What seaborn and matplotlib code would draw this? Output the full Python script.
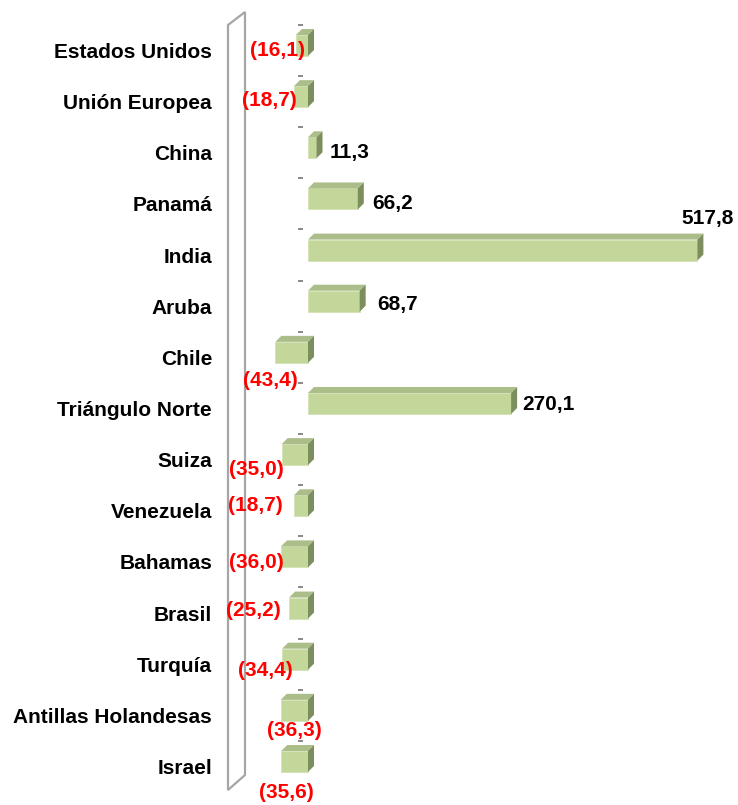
import matplotlib
matplotlib.use("Agg")
import matplotlib.pyplot as plt
from matplotlib.patches import Polygon
import seaborn as sns
import pandas as pd

# ---------------- data ----------------
categories = ["Estados Unidos", "Unión Europea", "China", "Panamá", "India", "Aruba",
              "Chile", "Triángulo Norte", "Suiza", "Venezuela", "Bahamas", "Brasil",
              "Turquía", "Antillas Holandesas", "Israel"]
values = [-16.1, -18.7, 11.3, 66.2, 517.8, 68.7, -43.4, 270.1, -35.0, -18.7,
          -36.0, -25.2, -34.4, -36.3, -35.6]
value_labels = ["(16,1)", "(18,7)", "11,3", "66,2", "517,8", "68,7", "(43,4)", "270,1",
                "(35,0)", "(18,7)", "(36,0)", "(25,2)", "(34,4)", "(36,3)", "(35,6)"]

# ---------------- layout (pixel offsets of value labels from bar ends) ----------------
label_offsets = [(-18, 0), (-25, -1), (13, 0), (14, 0), (36, -37), (18, -2),
                 (-5, 23), (11, -4), (-25, 10), (-39, -5), (-25, 1), (-36, -3),
                 (-17, 6), (14, 15), (5, 26)]

FACE = "#c4d79b"
TOP = "#abbd88"
SIDE = "#7c8d5e"
FS = 15

sns.set_theme(style="white")
plt.rcParams["font.family"] = ["Liberation Sans", "DejaVu Sans"]
plt.rcParams["font.weight"] = "bold"

W, H = 738, 805
fig = plt.figure(figsize=(W / 100, H / 100), dpi=100)

PX_PER_UNIT = 0.752
ZERO_PX = 308
ROW = 51.14
FIRST = 50.5
ax_left_px = 228
ax = fig.add_axes([ax_left_px / W, 0, (W - ax_left_px) / W, 1])

df = pd.DataFrame({"pais": categories, "valor": values})
sns.barplot(data=df, x="valor", y="pais", orient="h", color=FACE, saturation=1,
            width=0.41, edgecolor="#d3e2b6", linewidth=0.6, ax=ax, zorder=3)

ax.set_xlim((ax_left_px - ZERO_PX) / PX_PER_UNIT, (W - ZERO_PX) / PX_PER_UNIT)
ax.set_ylim((H - FIRST) / ROW, -FIRST / ROW)

shift = -5 / ROW
ddx = 6 / PX_PER_UNIT
ddy = 6 / ROW
for p in list(ax.patches):
    p.set_y(p.get_y() + shift)
    x0 = min(p.get_x(), p.get_x() + p.get_width())
    x1 = max(p.get_x(), p.get_x() + p.get_width())
    yt = p.get_y()
    yb = p.get_y() + p.get_height()
    ax.add_patch(Polygon([(x0, yt), (x1, yt), (x1 + ddx, yt - ddy), (x0 + ddx, yt - ddy)],
                         closed=True, facecolor=TOP, edgecolor="none", zorder=3))
    ax.add_patch(Polygon([(x1, yt), (x1 + ddx, yt - ddy), (x1 + ddx, yb - ddy), (x1, yb)],
                         closed=True, facecolor=SIDE, edgecolor="none", zorder=3))

# small floor ticks at category boundaries
for k in range(len(categories)):
    ax.plot([-13.3, -6.6], [k - 0.5, k - 0.5], color="#7f7f7f", lw=1.3, zorder=2,
            solid_capstyle="butt")

# side wall
wall = [(228, 25), (245, 12), (245, 775), (228, 790)]
ax.add_patch(Polygon([(x / W, 1 - y / H) for x, y in wall], closed=True,
                     transform=fig.transFigure, facecolor="none",
                     edgecolor="#a6a6a6", linewidth=1.6, zorder=1, clip_on=False))

# value labels
for i, (v, lab, (dx, dy)) in enumerate(zip(values, value_labels, label_offsets)):
    if v < 0:
        ax.annotate(lab, (v, i), xytext=(dx, -dy), textcoords="offset pixels",
                    ha="center", va="center", color="#ff0000", fontsize=FS,
                    fontweight="bold", zorder=5)
    elif i == categories.index("India"):
        ax.annotate(lab, (v, i), xytext=(dx, -dy), textcoords="offset pixels",
                    ha="right", va="center", color="black", fontsize=FS,
                    fontweight="bold", zorder=5)
    else:
        ax.annotate(lab, (v, i), xytext=(dx, -dy), textcoords="offset pixels",
                    ha="left", va="center", color="black", fontsize=FS,
                    fontweight="bold", zorder=5)

ax.set_yticks(range(len(categories)))
ax.set_yticklabels(categories, fontsize=FS, fontweight="bold", color="black")
ax.tick_params(axis="y", length=0, pad=11.5)
ax.set_xticks([])
ax.set_xlabel("")
ax.set_ylabel("")
for s in ax.spines.values():
    s.set_visible(False)
ax.patch.set_alpha(0)

fig.savefig("out.png", dpi=100)
